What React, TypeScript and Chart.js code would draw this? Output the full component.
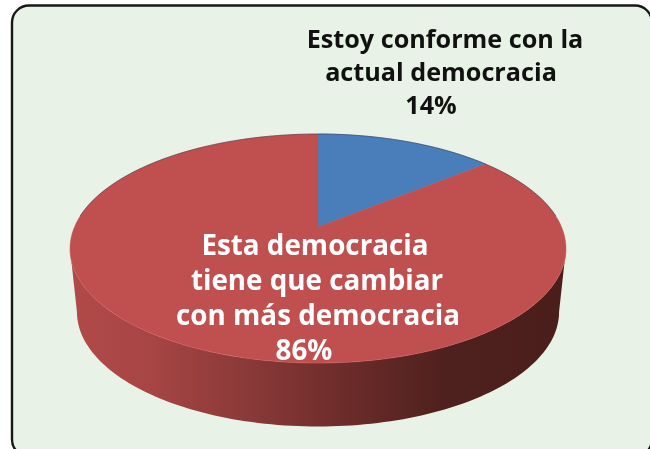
import { useEffect, useRef } from "react";
import { Chart, registerables } from "chart.js";

Chart.register(...registerables);

const categories = ["Estoy conforme con la actual democracia", "Esta democracia tiene que cambiar con más democracia"];
const shares = [14, 86];
const sliceColors = ["#4a7ebb", "#c0504f"];
const conformeLines = ["Estoy conforme con la", "actual democracia", "14%"];
const cambiarLines = ["Esta democracia", "tiene que cambiar", "con más democracia"];
const cambiarShare = "86%";

const FONT = '"Open Sans", "Noto Sans", sans-serif';
const STRETCH_X = 1.24;
const SQUASH_Y = 0.5725;
const NEAR_SHIFT = -0.188; // how far perspective pushes the disc centre towards the back
const WALL_DROP = 63.5;
const WALL_NARROW = 0.972;
const CONFORME_CENTRES = [445, 441, 431];
const CAMBIAR_CENTRES = [315, 317, 318];

// Projects a point of the unit disc onto the tilted face; straight radii stay straight.
function project(angle: number, radius: number) {
  const u = Math.cos(angle) * radius;
  const v = Math.sin(angle) * radius;
  const d = 1 + NEAR_SHIFT * v;
  return {
    x: (u * Math.sqrt(1 - NEAR_SHIFT * NEAR_SHIFT)) / d,
    y: (v + NEAR_SHIFT) / d,
  };
}

const tiltedPie = {
  id: "tiltedPie",
  beforeDraw(chart: any) {
    const { ctx } = chart;
    ctx.save();
    ctx.fillStyle = "#ffffff";
    ctx.fillRect(0, 0, chart.width, chart.height);
    ctx.beginPath();
    ctx.roundRect(12, 5.5, 640, 451, 17);
    ctx.fillStyle = "#e9f2e6";
    ctx.fill();
    ctx.lineWidth = 2.4;
    ctx.strokeStyle = "#17181a";
    ctx.stroke();
    ctx.restore();
  },
  beforeDatasetDraw(chart: any, args: any) {
    const { ctx } = chart;
    const arcs = args.meta.data;
    const { x: cx, y: cy, outerRadius } = arcs[0];
    const rx = outerRadius * STRETCH_X;
    const ry = outerRadius * SQUASH_Y;
    const face = (a: number, r = 1) => {
      const p = project(a, r);
      return [cx + p.x * rx, cy + p.y * ry];
    };
    const base = (a: number) => {
      const p = project(a, 1);
      return [cx + p.x * rx * WALL_NARROW, cy + p.y * ry + WALL_DROP];
    };

    // Outer wall: only the part of each slice that faces the viewer.
    const frontFrom = Math.asin(-NEAR_SHIFT);
    const frontTo = Math.PI - frontFrom;
    const wall = ctx.createLinearGradient(cx - rx, 0, cx + rx, 0);
    wall.addColorStop(0, "#b04a49");
    wall.addColorStop(0.15, "#a84645");
    wall.addColorStop(0.35, "#8b3a39");
    wall.addColorStop(0.55, "#6d2c2a");
    wall.addColorStop(0.75, "#4f211e");
    wall.addColorStop(1, "#4a1e1b");
    arcs.forEach((arc: any, i: number) => {
      const from = Math.max(arc.startAngle, frontFrom);
      const to = Math.min(arc.endAngle, frontTo);
      if (to <= from) return;
      ctx.beginPath();
      const steps = 120;
      for (let s = 0; s <= steps; s++) {
        const [x, y] = face(from + ((to - from) * s) / steps);
        s ? ctx.lineTo(x, y) : ctx.moveTo(x, y);
      }
      for (let s = steps; s >= 0; s--) {
        const [x, y] = base(from + ((to - from) * s) / steps);
        ctx.lineTo(x, y);
      }
      ctx.closePath();
      ctx.fillStyle = i === 1 ? wall : sliceColors[i];
      ctx.fill();
    });

    // Top face.
    arcs.forEach((arc: any, i: number) => {
      ctx.beginPath();
      const [ax, ay] = face(0, 0);
      ctx.moveTo(ax, ay);
      const steps = 180;
      for (let s = 0; s <= steps; s++) {
        const [x, y] = face(arc.startAngle + ((arc.endAngle - arc.startAngle) * s) / steps);
        ctx.lineTo(x, y);
      }
      ctx.closePath();
      ctx.fillStyle = sliceColors[i];
      ctx.fill();
      ctx.strokeStyle = i === 0 ? "rgba(74,126,187,0.9)" : "rgba(192,80,79,0.5)";
      ctx.lineWidth = 0.8;
      ctx.stroke();
    });

    // Thin shaded line along the far rim.
    ctx.beginPath();
    for (let s = 0; s <= 120; s++) {
      const [x, y] = face(Math.PI + 0.1 + ((Math.PI - 0.2) * s) / 120);
      s ? ctx.lineTo(x, y) : ctx.moveTo(x, y);
    }
    ctx.strokeStyle = "rgba(45,40,70,0.45)";
    ctx.lineWidth = 1;
    ctx.stroke();

    // Light catch along the near rim.
    ctx.beginPath();
    for (let s = 0; s <= 120; s++) {
      const [x, y] = face(0.2 + ((Math.PI - 0.4) * s) / 120);
      s ? ctx.lineTo(x, y) : ctx.moveTo(x, y);
    }
    ctx.strokeStyle = "rgba(214,100,98,0.4)";
    ctx.lineWidth = 1;
    ctx.stroke();
    return false;
  },
  afterDraw(chart: any) {
    const { ctx } = chart;
    ctx.save();
    ctx.textAlign = "center";
    ctx.textBaseline = "alphabetic";
    ctx.fillStyle = "#111111";
    ctx.font = `700 25.2px ${FONT}`;
    conformeLines.forEach((line, i) => ctx.fillText(line, CONFORME_CENTRES[i], 48 + i * 33));
    ctx.fillStyle = "#ffffff";
    ctx.font = `700 27.8px ${FONT}`;
    cambiarLines.forEach((line, i) => ctx.fillText(line, CAMBIAR_CENTRES[i], 255 + i * 35));
    ctx.fillText(cambiarShare, 304, 360);
    ctx.restore();
  },
};

export default function App() {
  const canvasRef = useRef<HTMLCanvasElement>(null);
  useEffect(() => {
    document.body.style.margin = "0";
    document.body.style.overflow = "hidden";
    const chart = new Chart(canvasRef.current!, {
      type: "pie",
      data: {
        labels: categories,
        datasets: [{ data: shares, backgroundColor: sliceColors, borderWidth: 0 }],
      },
      options: {
        responsive: false,
        animation: false,
        radius: 200,
        layout: { padding: { left: 0, right: 14, top: 48, bottom: 0 } },
        plugins: { legend: { display: false }, tooltip: { enabled: false } },
      },
      plugins: [tiltedPie],
    } as any);
    return () => chart.destroy();
  }, []);
  return <canvas ref={canvasRef} width={650} height={449} style={{ display: "block" }} />;
}
